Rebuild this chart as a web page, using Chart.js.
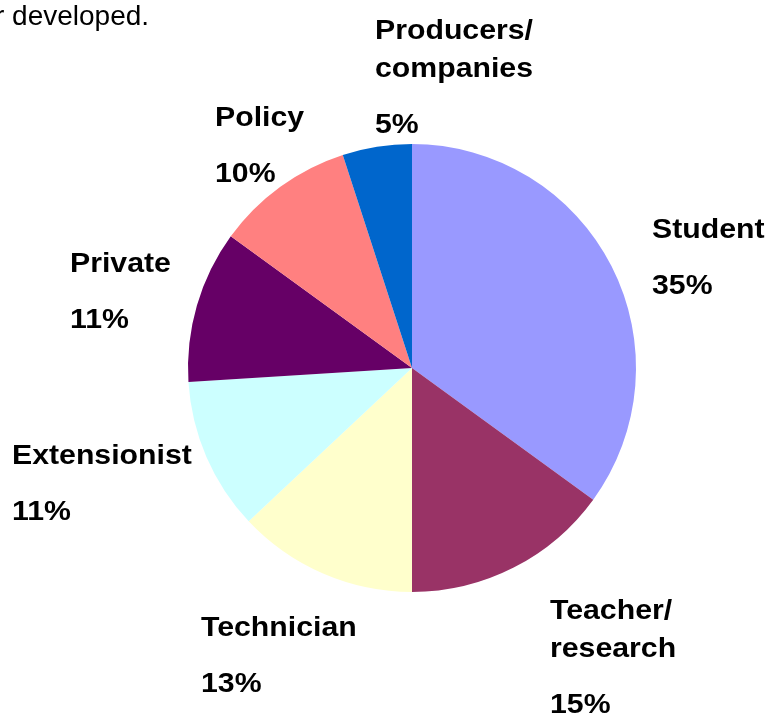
<!DOCTYPE html>
<html>
<head>
<meta charset="utf-8">
<script src="https://cdn.jsdelivr.net/npm/chart.js@4"></script>
<style>
  html, body { margin: 0; padding: 0; background: #fff; overflow: hidden; }
  #wrap { position: relative; width: 768px; height: 715px; }
  #note {
    position: absolute; left: -5px; top: 2px;
    font: 28px "Liberation Sans", Arial, sans-serif; line-height: 28px;
    color: #000; white-space: nowrap;
  }
</style>
</head>
<body>
<div id="wrap">
  <canvas id="pie" width="768" height="715"></canvas>
  <div id="note">r developed.</div>
</div>
<script>
// Slice data, clockwise from 12 o'clock
const categories = ["Student", "Teacher/\nresearch", "Technician", "Extensionist", "Private", "Policy", "Producers/\ncompanies"];
const shares = [35, 15, 13, 11, 11, 10, 5];
const sliceColors = ["#9999FF", "#993366", "#FFFFCC", "#CCFFFF", "#660066", "#FF8080", "#0066CC"];

// label anchors: left edge / first baseline, relative to pie centre
const labelOffsets = [
  [240, -130], [138, 251], [-211, 268], [-400, 96], [-342, -96], [-197, -242], [-37, -329]
];

const labelPlugin = {
  id: "outsideLabels",
  afterDatasetsDraw(chart) {
    const ctx = chart.ctx;
    const arcs = chart.getDatasetMeta(0).data;
    const cx = arcs[0].x, cy = arcs[0].y;
    const total = shares.reduce((a, b) => a + b, 0);
    ctx.save();
    ctx.fillStyle = "#000";
    ctx.font = "bold 27px 'Liberation Sans', Arial, sans-serif";
    ctx.textBaseline = "alphabetic";
    ctx.textAlign = "left";
    categories.forEach((name, i) => {
      const lines = name.split("\n");
      const x = cx + labelOffsets[i][0];
      let y = cy + labelOffsets[i][1];
      const pct = Math.round(shares[i] / total * 100) + "%";
      lines.forEach((ln, j) => {
        drawStretched(ctx, ln, x, y + j * 38);
      });
      drawStretched(ctx, pct, x, y + (lines.length - 1) * 38 + 56);
    });
    ctx.restore();
  }
};

function drawStretched(ctx, txt, x, y) {
  ctx.save();
  ctx.translate(x, y);
  ctx.scale(1.12, 1);
  ctx.fillText(txt, 0, 0);
  ctx.restore();
}

new Chart(document.getElementById("pie"), {
  type: "pie",
  data: {
    labels: categories,
    datasets: [{
      data: shares,
      backgroundColor: sliceColors,
      borderWidth: 0
    }]
  },
  options: {
    responsive: false,
    animation: false,
    layout: { padding: { top: 144, bottom: 123, left: 188, right: 132 } },
    plugins: {
      legend: { display: false },
      tooltip: { enabled: false }
    }
  },
  plugins: [labelPlugin]
});
</script>
</body>
</html>
